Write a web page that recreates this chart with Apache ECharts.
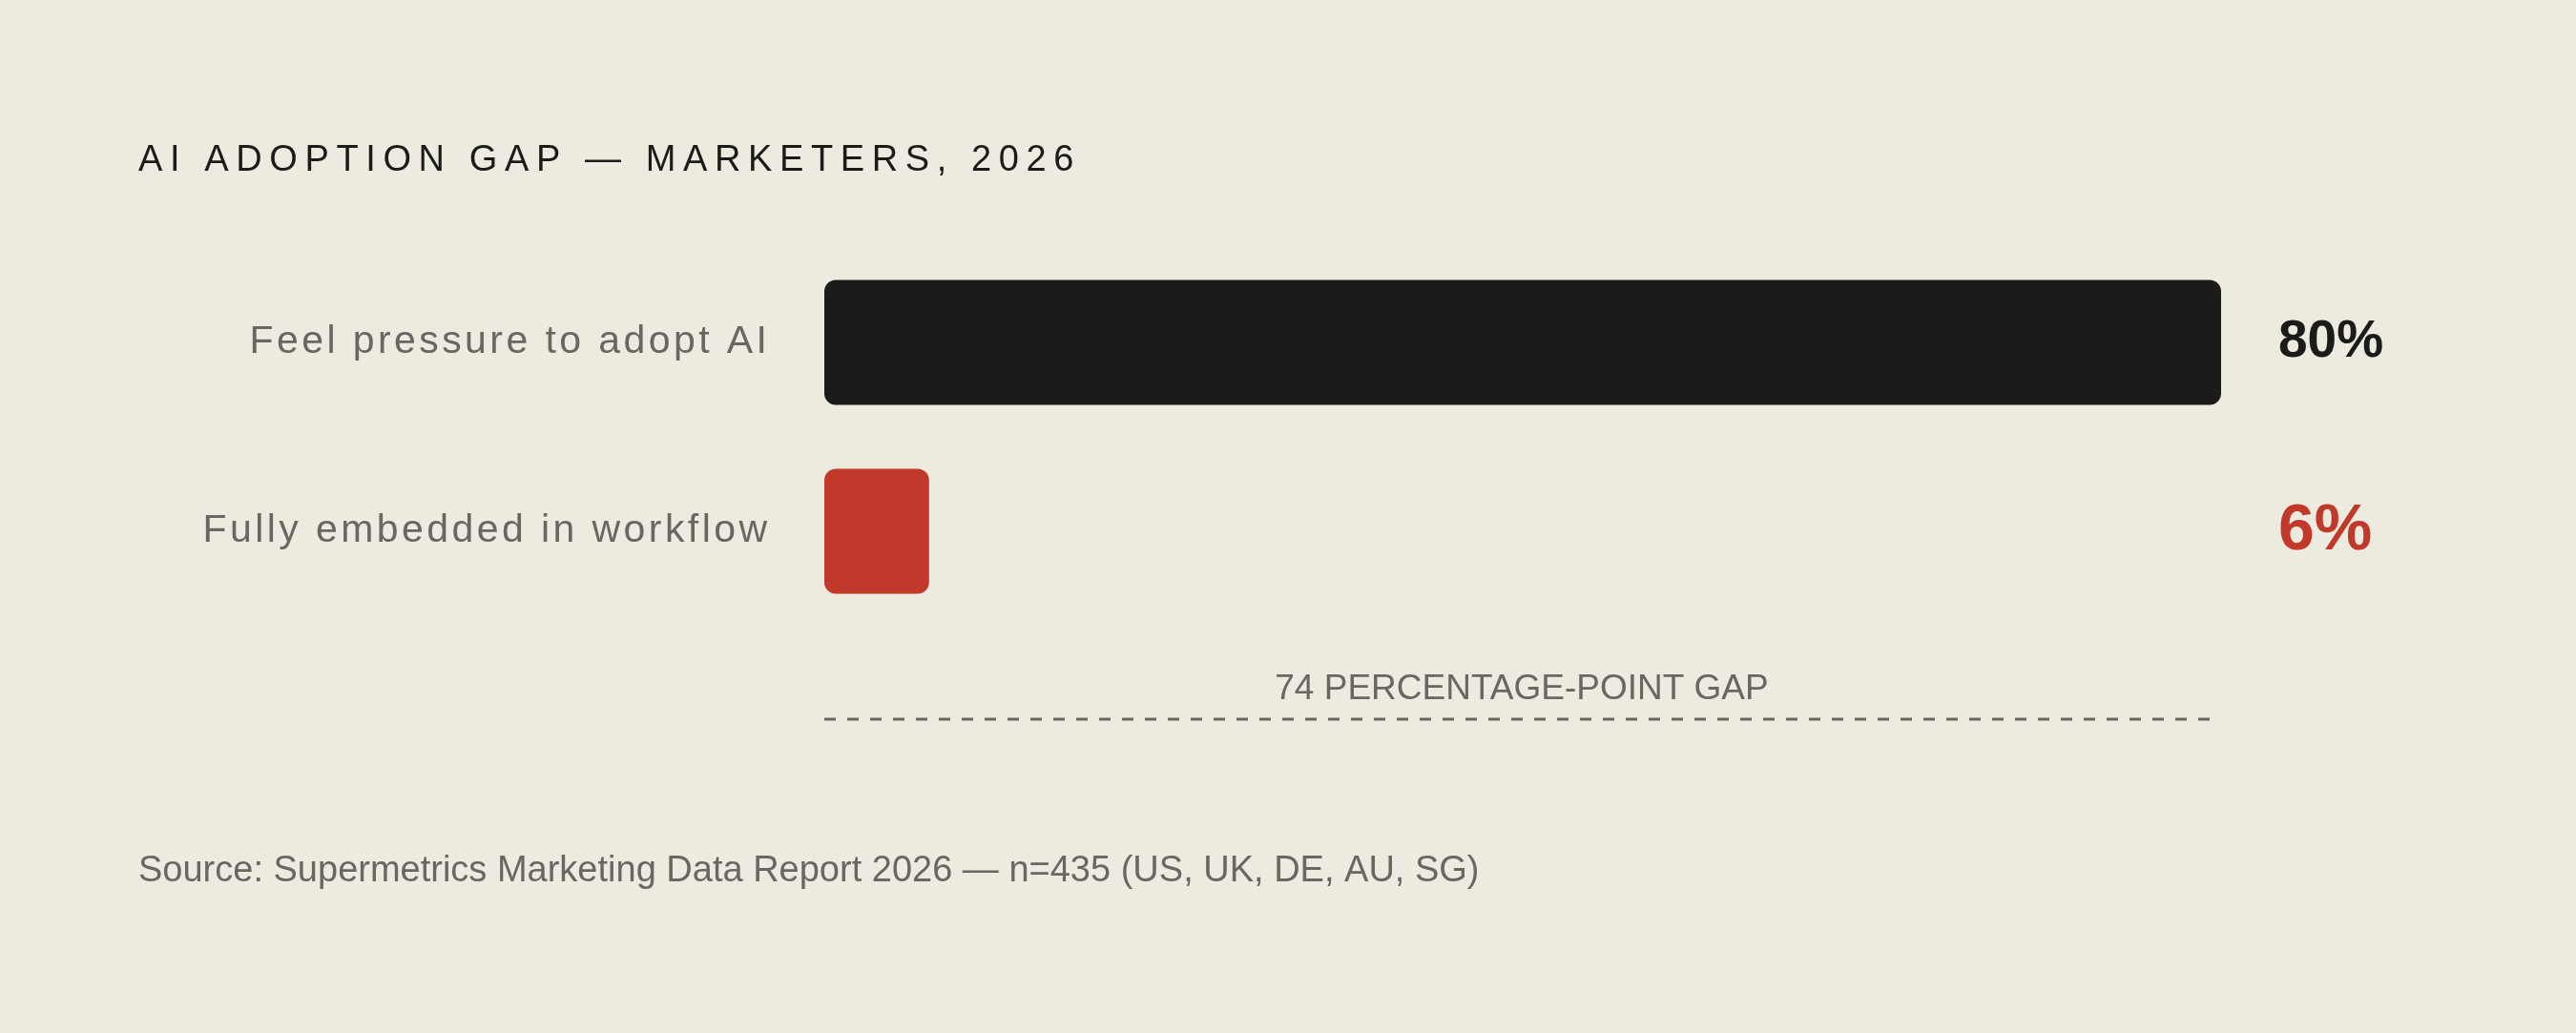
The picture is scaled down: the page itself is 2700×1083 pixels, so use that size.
<!DOCTYPE html>
<html><head><meta charset="utf-8">
<script src="https://cdn.jsdelivr.net/npm/echarts@6/dist/echarts.min.js"></script>
<style>html,body{margin:0;padding:0;background:#EDEBE0}#c{width:2700px;height:1083px}</style>
</head><body><div id="c"></div>
<script>
const categories = ['Feel pressure to adopt AI', 'Fully embedded in workflow'];
const values = [80, 6];
const valueLabels = ['80%', '6%'];
const title = 'AI ADOPTION GAP — MARKETERS, 2026';
const gapText = '74 PERCENTAGE-POINT GAP';
const source = 'Source: Supermetrics Marketing Data Report 2026 — n=435 (US, UK, DE, AU, SG)';
const colors = ['#1B1B19', '#C0392B'];

const chart = echarts.init(document.getElementById('c'));
chart.setOption({
  backgroundColor: '#EDEBE0',
  textStyle: { fontFamily: 'Liberation Sans, Arial, sans-serif' },
  grid: { left: 864, width: 1464, top: 260, height: 396 },
  xAxis: { type: 'value', min: 0, max: 80, show: false },
  yAxis: [{
    type: 'category', inverse: true, data: categories,
    axisLine: { show: false }, axisTick: { show: false },
    axisLabel: { margin: 60, fontSize: 41, color: '#6B6660', fontFamily: 'Liberation Sans, Arial, sans-serif',
      formatter: v => v.split('').join('\u200A') }
  }, {
    type: 'category', inverse: true, position: 'right', data: valueLabels,
    axisLine: { show: false }, axisTick: { show: false },
    axisLabel: { margin: 60, align: 'left',
      formatter: (v, i) => '{s' + i + '|' + v + '}',
      rich: {
        s0: { fontSize: 55, fontWeight: 'bold', color: colors[0], fontFamily: 'Liberation Sans, Arial, sans-serif' },
        s1: { fontSize: 68, fontWeight: 'bold', color: colors[1], fontFamily: 'Liberation Sans, Arial, sans-serif' }
      } }
  }],
  series: [{
    type: 'bar', barWidth: 131, animation: false,
    data: values.map((v, i) => ({ value: v, itemStyle: { color: colors[i], borderRadius: 12 } }))
  }],
  graphic: [
    { type: 'text', left: 145, top: 150, style: { text: title.split('').join('\u2009'), fontSize: 38, fill: '#1B1B19', fontFamily: 'Liberation Sans, Arial, sans-serif', letterSpacing: 6 } },
    { type: 'text', x: 1595, y: 723, style: { text: gapText, fontSize: 37, fill: '#6B6660', align: 'center', verticalAlign: 'middle', fontFamily: 'Liberation Sans, Arial, sans-serif', letterSpacing: 2 } },
    { type: 'line', shape: { x1: 864, y1: 754, x2: 2318, y2: 754 }, style: { stroke: '#6B6660', lineWidth: 3, lineDash: [12, 12] } },
    { type: 'text', left: 145, y: 914, style: { text: source, fontSize: 38, fill: '#6B6660', verticalAlign: 'middle', fontFamily: 'Liberation Sans, Arial, sans-serif', letterSpacing: 1 } }
  ]
});
</script></body></html>
